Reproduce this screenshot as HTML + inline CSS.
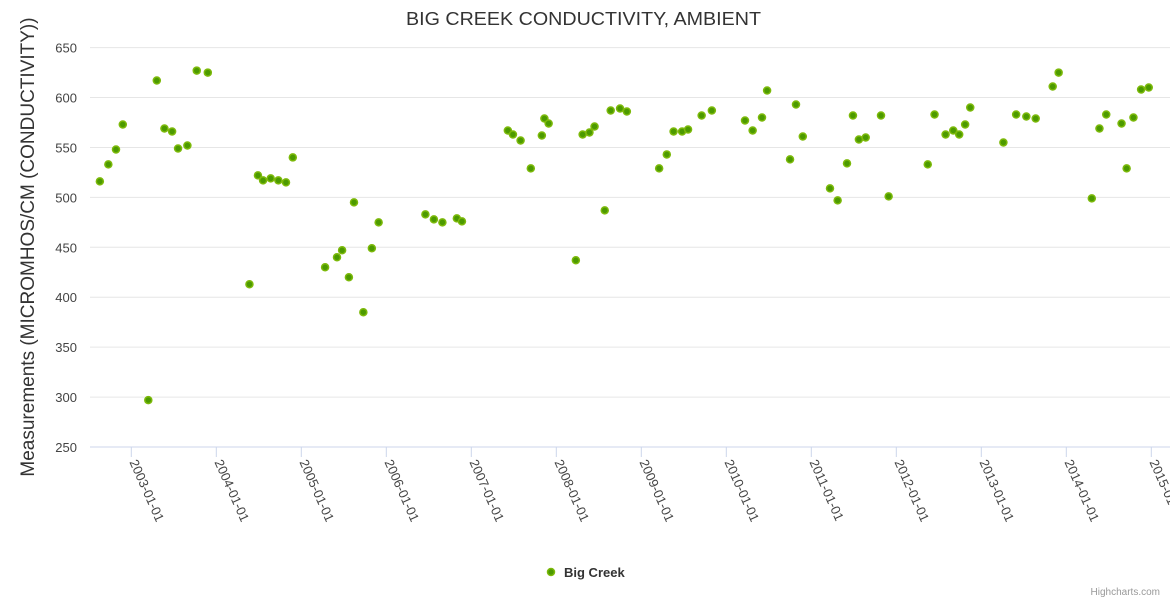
<!DOCTYPE html>
<html><head><meta charset="utf-8"><style>
body{margin:0;background:#fff;font-family:"Liberation Sans","DejaVu Sans",sans-serif}
svg{display:block}
</style></head><body>
<svg id="chart" width="1170" height="600">
<text x="583.5" y="25" text-anchor="middle" font-size="18" fill="#333" textLength="355" lengthAdjust="spacingAndGlyphs">BIG CREEK CONDUCTIVITY, AMBIENT</text>
<text transform="translate(34,247) rotate(-90)" text-anchor="middle" font-size="19" fill="#333">Measurements (MICROMHOS/CM (CONDUCTIVITY))</text>
<g id="grid"></g><g id="xaxis"></g><g id="pts"></g>
<g>
<circle cx="551" cy="572" r="3.5" fill="#4c9a00" stroke="#7cb90a" stroke-width="1.5"/>
<text x="564" y="577" font-size="13" font-weight="bold" fill="#333">Big Creek</text>
</g>
<text x="1160" y="595" text-anchor="end" font-size="10" fill="#999">Highcharts.com</text>
</svg>
<script>
const yearsDecimal=[2002.63,2002.73,2002.82,2002.90,2003.20,2003.30,2003.39,2003.48,2003.55,2003.66,2003.77,2003.90,2004.39,2004.49,2004.55,2004.64,2004.73,2004.82,2004.90,2005.28,2005.42,2005.48,2005.56,2005.62,2005.73,2005.83,2005.91,2006.46,2006.56,2006.66,2006.83,2006.89,2007.43,2007.49,2007.58,2007.70,2007.83,2007.86,2007.91,2008.23,2008.31,2008.39,2008.45,2008.57,2008.64,2008.75,2008.83,2009.21,2009.30,2009.38,2009.48,2009.55,2009.71,2009.83,2010.22,2010.31,2010.42,2010.48,2010.75,2010.82,2010.90,2011.22,2011.31,2011.42,2011.49,2011.56,2011.64,2011.82,2011.91,2012.37,2012.45,2012.58,2012.67,2012.74,2012.81,2012.87,2013.26,2013.41,2013.53,2013.64,2013.84,2013.91,2014.30,2014.39,2014.47,2014.65,2014.71,2014.79,2014.88,2014.97];
const conductivity=[516,533,548,573,297,617,569,566,549,552,627,625,413,522,517,519,517,515,540,430,440,447,420,495,385,449,475,483,478,475,479,476,567,563,557,529,562,579,574,437,563,565,571,487,587,589,586,529,543,566,566,568,582,587,577,567,580,607,538,593,561,509,497,534,582,558,560,582,501,533,583,563,567,563,573,590,555,583,581,579,611,625,499,569,583,574,529,580,608,610];
const yTicks=[250,300,350,400,450,500,550,600,650];
const xTickYears=[2003,2004,2005,2006,2007,2008,2009,2010,2011,2012,2013,2014,2015];
const NS="http://www.w3.org/2000/svg";
const plotL=90,plotR=1170;
function xs(yr){return 131.3+(yr-2003)*85;}
function ys(v){return 447-(v-250)*0.9985;}
const grid=document.getElementById('grid'),xa=document.getElementById('xaxis'),pts=document.getElementById('pts');
function mk(tag,attrs,parent){const e=document.createElementNS(NS,tag);for(const k in attrs)e.setAttribute(k,attrs[k]);parent.appendChild(e);return e;}
yTicks.forEach(t=>{
  const y=ys(t);
  const l=mk('line',{x1:plotL,x2:plotR,y1:y,y2:y,stroke:t===250?'#ccd6eb':'#e6e6e6','stroke-width':1},grid);
  
  
  const tx=mk('text',{x:77,y:y+5,'text-anchor':'end','font-size':13,fill:'#444'},grid);
  tx.textContent=t;
  
  
});
xTickYears.forEach(yr=>{
  const x=xs(yr);
  const l=mk('line',{x1:x,x2:x,y1:447,y2:457,stroke:'#ccd6eb'},xa);
  
  
  const tx=mk('text',{transform:`translate(${x-2},${462}) rotate(66)`,'font-size':13,fill:'#444'},xa);
  tx.textContent=yr+'-01-01';
  
  
});
yearsDecimal.forEach((yr,i)=>{
  const c=mk('circle',{cx:xs(yr),cy:ys(conductivity[i]),r:3.5,fill:'#4c9a00',stroke:'#7cb90a','stroke-width':1.5},pts);
  
  
});
</script>
</body></html>
